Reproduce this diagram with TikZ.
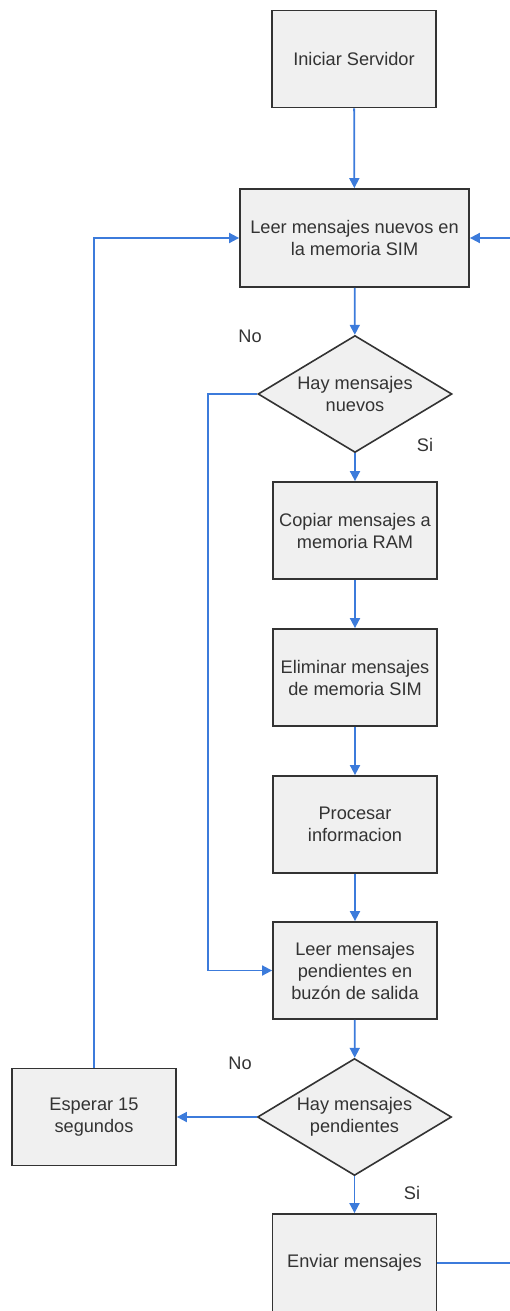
\documentclass[tikz,border=0pt]{standalone}
\usepackage{fontspec}
\setmainfont{Liberation Sans}
\usetikzlibrary{shapes.geometric,arrows.meta}
\definecolor{flowblue}{HTML}{3C7BDB}
\definecolor{boxfill}{HTML}{F0F0F0}
\definecolor{boxline}{HTML}{333333}
\definecolor{txt}{HTML}{333333}
\tikzset{
  procbox/.style={draw=boxline, line width=1.8pt, fill=boxfill, rectangle,
    minimum width=164pt, minimum height=97pt, inner sep=0pt, align=center,
    text=txt, font=\fontsize{18.2}{22}\selectfont},
  decision/.style={draw=boxline, line width=1.6pt, fill=boxfill, diamond,
    shape aspect=1.66, minimum width=194pt, minimum height=117pt,
    inner sep=0pt, align=center,
    text=txt, font=\fontsize{18.2}{22}\selectfont},
  flow/.style={draw=flowblue, line width=1.8pt,
    -{Triangle[length=10pt,width=10pt]}},
  tag/.style={text=txt, font=\fontsize{18.2}{22}\selectfont, inner sep=0pt}
}
\begin{document}
\begin{tikzpicture}[x=1pt,y=-1pt]
\useasboundingbox (0,0) rectangle (510,1311);
\clip (0,0) rectangle (510,1311);

% process steps
\node[procbox] (inicio) at (354,59) {Iniciar Servidor};
\node[procbox, minimum width=229pt, minimum height=98pt] (leer) at (354.5,238)
  {Leer mensajes nuevos en\\la memoria SIM};
\node[decision] (hay1) at (355,394) {Hay mensajes\\nuevos};
\node[procbox] (copiar) at (355,530.5) {Copiar mensajes a\\memoria RAM};
\node[procbox] (elim) at (355,677.5) {Eliminar mensajes\\de memoria SIM};
\node[procbox] (proc) at (355,824.5) {Procesar\\informacion};
\node[procbox] (pend) at (355,970.5) {Leer mensajes\\pendientes en\\buzón de salida};
\node[decision] (hay2) at (354.5,1117) {Hay mensajes\\pendientes};
\node[procbox] (esperar) at (94,1117) {Esperar 15\\segundos};
\node[procbox, minimum height=98pt] (enviar) at (354.5,1263) {Enviar mensajes};

% branch labels
\node[tag] (no1) at (250,336) {No};
\node[tag] (si1) at (425,445) {Si};
\node[tag] (no2) at (240,1063) {No};
\node[tag] (si2) at (412,1193) {Si};

% main sequence
\draw[flow] (inicio) -- (leer);
\draw[flow] (leer) -- (hay1);
\draw[flow] (hay1) -- (copiar);
\draw[flow] (copiar) -- (elim);
\draw[flow] (elim) -- (proc);
\draw[flow] (proc) -- (pend);
\draw[flow] (pend) -- (hay2);
\draw[flow] (hay2) -- (enviar);

% branches and loops
\draw[flow] (hay1.west) -- (208,394) |- (pend.west);
\draw[flow] (hay2.west) -- (esperar.east);
\draw[flow] (esperar.north) |- (leer.west);
\draw[flow] (enviar.east) -- (530,1263) |- (leer.east);
\end{tikzpicture}
\end{document}
